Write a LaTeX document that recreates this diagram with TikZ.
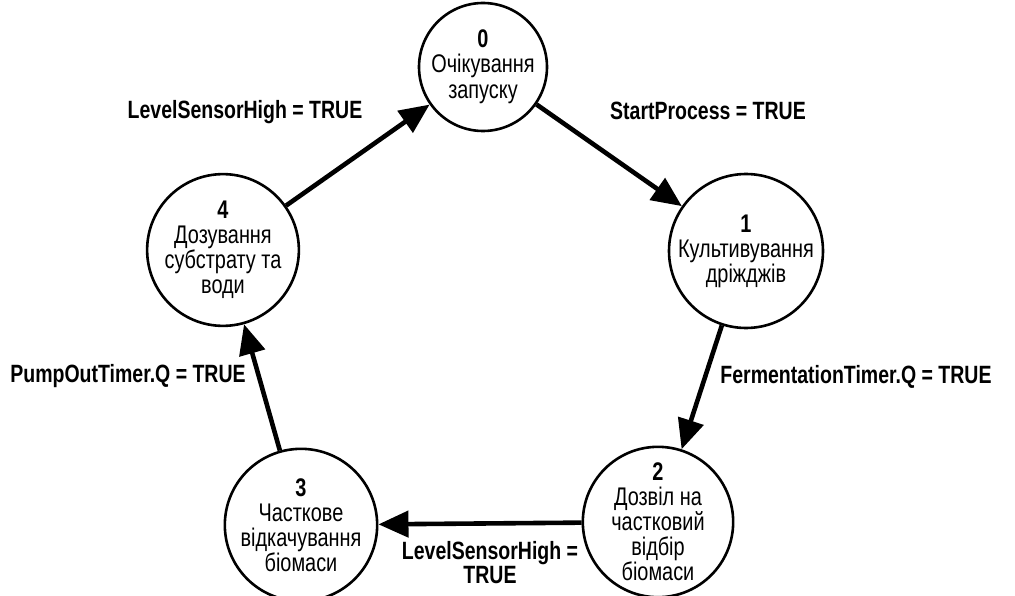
\documentclass[tikz,border=0pt]{standalone}
\usepackage{fontspec}
\setmainfont[FakeStretch=0.78]{Liberation Sans}
\usetikzlibrary{arrows.meta}
\tikzset{
  state/.style={circle,draw=black,line width=2.6pt,minimum size=128pt,inner sep=0pt,align=center,font=\fontsize{25.5}{25}\selectfont},
  trans/.style={line width=4.6pt,-{Triangle[length=30pt,width=26pt]}},
  lbl/.style={font=\bfseries\fontsize{25}{24}\selectfont,align=center,inner sep=0pt}
}
\begin{document}
\begin{tikzpicture}[x=1pt,y=-1pt]
\useasboundingbox (0,0) rectangle (1015,596);
\node[state] (s0) at (483,67) {\textbf{0}\\Очікування\\[1pt]запуску};
\node[state] (s1) at (746,251) {\textbf{1}\\Культивування\\дріжджів};
\node[state] (s2) at (658,522) {\textbf{2}\\Дозвіл на\\частковий\\відбір\\біомаси};
\node[state] (s3) at (301,525) {\textbf{3}\\Часткове\\відкачування\\біомаси};
\node[state] (s4) at (223,250) {\textbf{4}\\Дозування\\субстрату та\\води};
\draw[trans] (s0) -- (s1);
\draw[trans] (s1) -- (s2);
\draw[trans] (s2) -- (s3);
\draw[trans] (s3) -- (s4);
\draw[trans] (s4) -- (s0);
\node[lbl] (l01) at (708,111) {StartProcess = TRUE};
\node[lbl] (l12) at (856,377) {FermentationTimer.Q = TRUE};
\node[lbl] (l23) at (490,563) {LevelSensorHigh =\\TRUE};
\node[lbl] (l34) at (128,376) {PumpOutTimer.Q = TRUE};
\node[lbl] (l40) at (245,112) {LevelSensorHigh = TRUE};
\end{tikzpicture}
\end{document}
